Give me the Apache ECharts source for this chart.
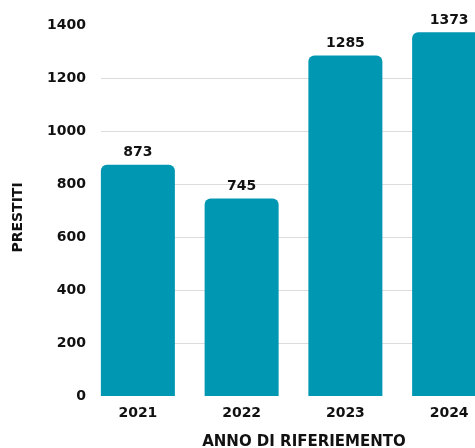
<!DOCTYPE html>
<html>
<head>
<meta charset="utf-8">
<script src="https://cdn.jsdelivr.net/npm/echarts@6/dist/echarts.min.js"></script>
<style>
html,body{margin:0;padding:0;background:#fff;}
#chart{width:475px;height:448px;}
</style>
</head>
<body>
<div id="chart"></div>
<script>
var categories = ['2021', '2022', '2023', '2024'];
var prestiti = [873, 745, 1285, 1373];
var yTicks = [0, 200, 400, 600, 800, 1000, 1200, 1400];

var FONT = 'DejaVu Sans';
var chart = echarts.init(document.getElementById('chart'));
var gridColors = yTicks.map(function (v, i) {
  return (i === 0 || i === yTicks.length - 1) ? 'rgba(0,0,0,0)' : '#dcdcdc';
});
chart.setOption({
  animation: false,
  backgroundColor: '#ffffff',
  grid: [
    { left: 101, width: 406, top: 25, bottom: 52, outerBoundsMode: 'none', containLabel: false },
    { left: 86, width: 415, top: 25, bottom: 52, outerBoundsMode: 'none', containLabel: false },
    { left: 86, width: 415, top: 39, bottom: 52, outerBoundsMode: 'none', containLabel: false }
  ],
  xAxis: [
    {
      gridIndex: 0, type: 'value', min: 0, max: 1, show: true,
      axisLine: { show: false }, axisTick: { show: false }, axisLabel: { show: false },
      splitLine: { show: false },
      name: 'ANNO DI RIFERIEMENTO', nameLocation: 'middle', nameGap: 39,
      nameTextStyle: { fontFamily: FONT, fontWeight: 'bold', fontSize: 15, color: '#111' }
    },
    {
      gridIndex: 1, type: 'category', data: categories,
      axisLine: { show: false }, axisTick: { show: false },
      axisLabel: { fontFamily: FONT, fontWeight: 'bold', fontSize: 14, color: '#111', margin: 10 }
    },
    {
      gridIndex: 2, type: 'value', min: 0, max: 1, show: false
    }
  ],
  yAxis: [
    {
      gridIndex: 0, type: 'value', min: 0, max: 1400, interval: 200,
      axisLine: { show: false }, axisTick: { show: false }, axisLabel: { show: false },
      splitLine: { show: true, lineStyle: { color: gridColors, width: 1 } }
    },
    {
      gridIndex: 1, type: 'value', min: 0, max: 1400, interval: 200,
      axisLine: { show: false }, axisTick: { show: false },
      splitLine: { show: false },
      axisLabel: { fontFamily: FONT, fontWeight: 'bold', fontSize: 14, color: '#111', margin: 0,
        formatter: function (v) { return String(v); } }
    },
    {
      gridIndex: 2, type: 'value', min: 0, max: 1, show: true,
      axisLine: { show: false }, axisTick: { show: false }, axisLabel: { show: false },
      splitLine: { show: false },
      name: 'PRESTITI', nameLocation: 'middle', nameGap: 61, nameRotate: 90,
      nameTextStyle: { fontFamily: FONT, fontWeight: 'bold', fontSize: 14, color: '#111' }
    }
  ],
  series: [
    {
      type: 'bar', xAxisIndex: 1, yAxisIndex: 1, data: prestiti,
      barWidth: 74,
      itemStyle: { color: '#0097b2', borderRadius: [6, 6, 0, 0] },
      label: { show: true, position: 'top', distance: 5, fontFamily: FONT, fontWeight: 'bold', fontSize: 14, color: '#111' }
    }
  ]
});
</script>
</body>
</html>
